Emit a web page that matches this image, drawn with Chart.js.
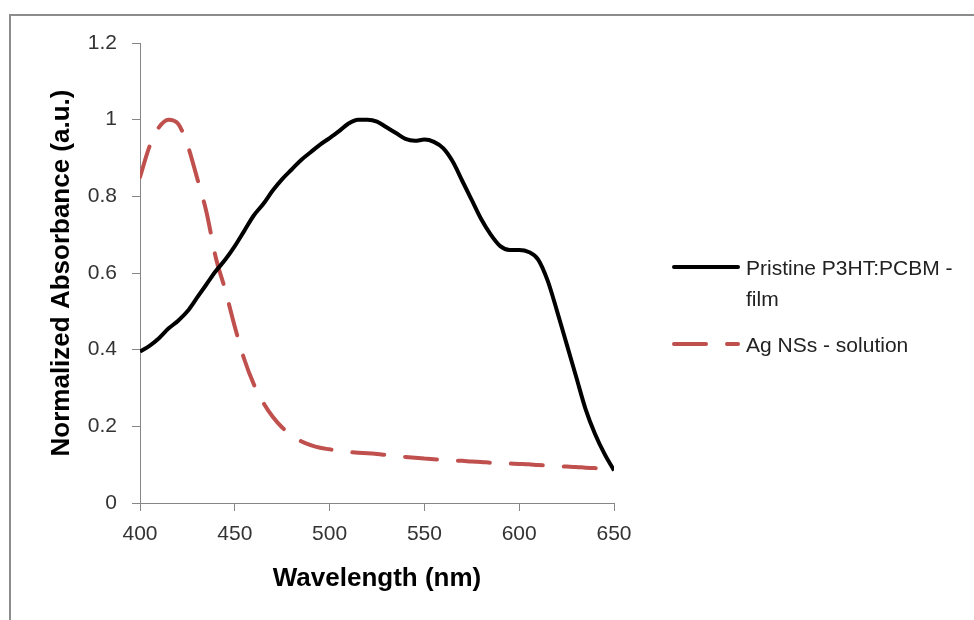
<!DOCTYPE html>
<html>
<head>
<meta charset="utf-8">
<script src="https://cdn.jsdelivr.net/npm/chart.js@4/dist/chart.umd.min.js"></script>
<style>
    html, body { margin: 0; padding: 0; background: #fff; overflow: hidden; }
    #wrap { position: relative; width: 974px; height: 620px; }
    #frame { position: absolute; left: 9px; top: 14px; width: 1000px; height: 700px; border: 2px solid #8c8c8c; box-sizing: border-box; }
    #absChart { position: absolute; left: 0; top: 0; }
</style>
</head>
<body>
<div id="wrap">
    <div id="frame"></div>
    <canvas id="absChart" width="974" height="620"></canvas>
</div>
<script>
// Wavelength grid (nm), every 5 nm
const wavelengths = [400, 405, 410, 415, 420, 425, 430, 435, 440, 445,
    450, 455, 460, 465, 470, 475, 480, 485, 490, 495,
    500, 505, 510, 515, 520, 525, 530, 535, 540, 545,
    550, 555, 560, 565, 570, 575, 580, 585, 590, 595,
    600, 605, 610, 615, 620, 625, 630, 635, 640, 645, 650];

// Pristine P3HT:PCBM film
const filmAbs = [0.395, 0.41, 0.43, 0.455, 0.475, 0.50, 0.535, 0.57, 0.605, 0.635,
    0.67, 0.71, 0.75, 0.78, 0.815, 0.845, 0.87, 0.895, 0.915, 0.935,
    0.952, 0.97, 0.99, 1.0, 1.0, 0.995, 0.98, 0.965, 0.95, 0.945,
    0.948, 0.942, 0.925, 0.89, 0.84, 0.79, 0.74, 0.70, 0.67, 0.66,
    0.66, 0.655, 0.635, 0.58, 0.50, 0.415, 0.33, 0.245, 0.18, 0.128, 0.085];

// Ag NSs in solution
const agAbs = [0.85, 0.93, 0.98, 1.0, 0.99, 0.935, 0.85, 0.76, 0.64, 0.555,
    0.46, 0.375, 0.31, 0.262, 0.225, 0.197, 0.176, 0.161, 0.151, 0.144,
    0.14, 0.136, 0.133, 0.131, 0.13, 0.128, 0.125, 0.122, 0.12, 0.118,
    0.116, 0.114, 0.112, 0.111, 0.11, 0.108, 0.107, 0.105, 0.104, 0.103,
    0.102, 0.101, 0.099, 0.098, 0.096, 0.095, 0.094, 0.092, 0.091, 0.089, 0.088];

const seriesNames = [['Pristine P3HT:PCBM -', 'film'], ['Ag NSs - solution']];
const xTicks = [400, 450, 500, 550, 600, 650];
const yTicks = [0, 0.2, 0.4, 0.6, 0.8, 1, 1.2];

const axisGray = '#868686';
const tickFont = { family: 'Liberation Sans', size: 21 };
const titleFont = { family: 'Liberation Sans', size: 26, weight: 'bold' };

// legend drawn on the right with a wrapped first label
const sideLegend = {
    id: 'sideLegend',
    afterDraw(chart) {
        const ctx = chart.ctx;
        const rows = [
            { ds: chart.data.datasets[0], lineY: 267, textY: 275 },
            { ds: chart.data.datasets[1], lineY: 344, textY: 352 }
        ];
        ctx.save();
        ctx.font = '21px "Liberation Sans"';
        ctx.fillStyle = '#222';
        ctx.textBaseline = 'alphabetic';
        rows.forEach((row, i) => {
            ctx.beginPath();
            ctx.strokeStyle = row.ds.borderColor;
            ctx.lineWidth = row.ds.borderWidth;
            ctx.lineCap = 'round';
            ctx.setLineDash(row.ds.borderDash || []);
            ctx.moveTo(674, row.lineY);
            ctx.lineTo(738, row.lineY);
            ctx.stroke();
            ctx.setLineDash([]);
            seriesNames[i].forEach((txt, k) => {
                ctx.fillText(txt, 746, row.textY + k * 30.5);
            });
        });
        ctx.restore();
    }
};

new Chart(document.getElementById('absChart').getContext('2d'), {
    type: 'line',
    data: {
        labels: wavelengths,
        datasets: [{
            label: seriesNames[0].join(' '),
            data: wavelengths.map((w, i) => ({ x: w, y: filmAbs[i] })),
            borderColor: '#000000',
            borderWidth: 4,
            pointRadius: 0,
            tension: 0.4,
            cubicInterpolationMode: 'monotone',
            fill: false
        }, {
            label: seriesNames[1].join(' '),
            data: wavelengths.map((w, i) => ({ x: w, y: agAbs[i] })),
            borderColor: '#c0504d',
            borderWidth: 4,
            borderDash: [32, 21],
            borderCapStyle: 'round',
            pointRadius: 0,
            tension: 0.4,
            cubicInterpolationMode: 'monotone',
            fill: false
        }]
    },
    options: {
        responsive: false,
        animation: false,
        devicePixelRatio: 1,
        layout: { padding: { left: 0, top: 43, right: 360, bottom: 0 } },
        plugins: {
            legend: { display: false },
            tooltip: { enabled: false }
        },
        scales: {
            x: {
                type: 'linear',
                min: 400,
                max: 650,
                afterFit: scale => { scale.height = 117; },
                afterBuildTicks: scale => { scale.ticks = xTicks.map(v => ({ value: v })); },
                border: { color: axisGray, width: 1 },
                grid: { drawOnChartArea: false, drawTicks: true, tickLength: 8, color: axisGray },
                ticks: { color: '#333', font: tickFont, padding: 11, maxRotation: 0 },
                title: {
                    display: true,
                    text: 'Wavelength (nm)',
                    color: '#000',
                    font: titleFont,
                    padding: { top: 0, bottom: 26 }
                }
            },
            y: {
                min: 0,
                max: 1.2,
                afterFit: scale => { scale.width = 140; },
                afterBuildTicks: scale => { scale.ticks = yTicks.map(v => ({ value: v })); },
                border: { color: axisGray, width: 1 },
                grid: { drawOnChartArea: false, drawTicks: true, tickLength: 8, color: axisGray },
                ticks: {
                    color: '#333',
                    font: tickFont,
                    padding: 15,
                    callback: v => String(+v.toFixed(1))
                },
                title: {
                    display: true,
                    text: 'Normalized Absorbance (a.u.)',
                    color: '#000',
                    font: titleFont,
                    padding: { top: 46, bottom: 0 }
                }
            }
        }
    },
    plugins: [sideLegend]
});
</script>
</body>
</html>
